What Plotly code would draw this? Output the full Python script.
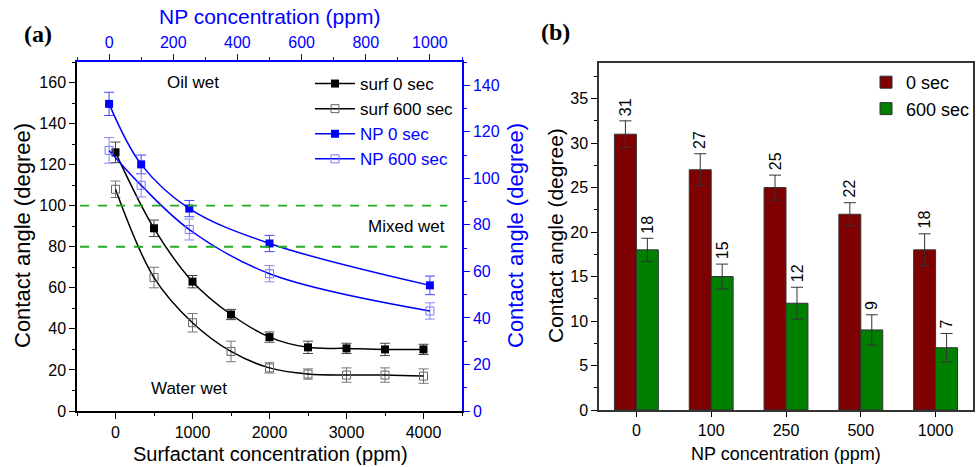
import plotly.graph_objects as go

# ---------------- data: panel (a) ----------------
surf_conc = [0, 500, 1000, 1500, 2000, 2500, 3000, 3500, 4000]
surf_0 = [126, 89, 63, 47, 36, 31, 30.5, 30, 30]
surf_0_err = [5, 4, 3, 2.5, 2.5, 3, 2.5, 3, 2.5]
surf_600 = [108, 65, 43, 29, 21, 18, 17.5, 17.5, 17]
surf_600_err = [4, 5, 4.5, 5, 2.5, 2.5, 3.5, 3.5, 3.5]

np_conc = [0, 100, 250, 500, 1000]
np_0 = [132, 106, 87, 72, 54]
np_0_err = [5, 4, 3.5, 3.5, 4]
np_600 = [112, 97, 78, 59, 43]
np_600_err = [5.5, 5, 4.5, 3.5, 3.5]

wet_limits = [100, 80]
region_labels = ["Oil wet", "Mixed wet", "Water wet"]
region_x = [1000, 3780, 950]
region_y = [160, 90, 11]

# ---------------- data: panel (b) ----------------
bar_cats = ["0", "100", "250", "500", "1000"]
bar_0 = [31, 27, 25, 22, 18]
bar_0_err = [1.5, 1.8, 1.4, 1.3, 1.8]
bar_600 = [18, 15, 12, 9, 7]
bar_600_err = [1.3, 1.4, 1.8, 1.7, 1.6]

FONT = "Arial, Liberation Sans, sans-serif"
BLUE = "#0000ff"
W, H = 978, 467


def px(x):
    return x / W


def py(y):
    return 1 - y / H


fig = go.Figure()

# panel (a) surfactant series
fig.add_trace(go.Scatter(
    x=surf_conc, y=surf_0, name="surf 0 sec", mode="lines+markers",
    line=dict(color="black", width=1.5, shape="spline"),
    marker=dict(symbol="square", size=8, color="black"),
    error_y=dict(type="data", array=surf_0_err, color="#444444", thickness=1, width=5),
    xaxis="x", yaxis="y", legend="legend"))
fig.add_trace(go.Scatter(
    x=surf_conc, y=surf_600, name="surf 600 sec", mode="lines+markers",
    line=dict(color="black", width=1.5, shape="spline"),
    marker=dict(symbol="square-open", size=8, color="#666666", line=dict(width=1)),
    error_y=dict(type="data", array=surf_600_err, color="#777777", thickness=1, width=5),
    xaxis="x", yaxis="y", legend="legend"))
# panel (a) NP series (top / right axes)
fig.add_trace(go.Scatter(
    x=np_conc, y=np_0, name='<span style="color:#0000ff">NP 0 sec</span>', mode="lines+markers",
    line=dict(color=BLUE, width=1.5, shape="spline"),
    marker=dict(symbol="square", size=8, color=BLUE),
    error_y=dict(type="data", array=np_0_err, color="#4444ff", thickness=1, width=5),
    xaxis="x2", yaxis="y2", legend="legend"))
fig.add_trace(go.Scatter(
    x=np_conc, y=np_600, name='<span style="color:#0000ff">NP 600 sec</span>', mode="lines+markers",
    line=dict(color=BLUE, width=1.5, shape="spline"),
    marker=dict(symbol="square-open", size=8, color="#7777ff", line=dict(width=1)),
    error_y=dict(type="data", array=np_600_err, color="#8888ff", thickness=1, width=5),
    xaxis="x2", yaxis="y2", legend="legend"))

# panel (b) bars
fig.add_trace(go.Bar(
    x=bar_cats, y=bar_0, name="0 sec", marker=dict(color="#7f0000", line=dict(color="#333333", width=1)),
    error_y=dict(type="data", array=bar_0_err, color="#333333", thickness=1, width=6),
    xaxis="x3", yaxis="y3", legend="legend2"))
fig.add_trace(go.Bar(
    x=bar_cats, y=bar_600, name="600 sec", marker=dict(color="#007f00", line=dict(color="#333333", width=1)),
    error_y=dict(type="data", array=bar_600_err, color="#333333", thickness=1, width=6),
    xaxis="x3", yaxis="y3", legend="legend2"))

annotations = []
# bar value labels
half = (1 - 0.413) / 4
for i, (v, e) in enumerate(zip(bar_0, bar_0_err)):
    annotations.append(dict(x=i - half, y=v + e, xref="x3", yref="y3", text=str(v), showarrow=False,
                            textangle=-90, yanchor="bottom", xanchor="center", yshift=3,
                            font=dict(family=FONT, size=16, color="black")))
for i, (v, e) in enumerate(zip(bar_600, bar_600_err)):
    annotations.append(dict(x=i + half, y=v + e, xref="x3", yref="y3", text=str(v), showarrow=False,
                            textangle=-90, yanchor="bottom", xanchor="center", yshift=3,
                            font=dict(family=FONT, size=16, color="black")))
# region labels
for t, x, y in zip(region_labels, region_x, region_y):
    annotations.append(dict(x=x, y=y, xref="x", yref="y", text=t, showarrow=False,
                            font=dict(family=FONT, size=17, color="black")))

# axis titles & panel letters
def title(text, x, y, size, color="black", angle=0, fam=FONT):
    annotations.append(dict(x=px(x), y=py(y), xref="paper", yref="paper", text=text, showarrow=False,
                            textangle=angle, xanchor="center", yanchor="middle",
                            font=dict(family=fam, size=size, color=color)))

title("Contact angle (degree)", 22, 236, 22, angle=-90)
title("Contact angle (degree)", 515, 236, 22, color=BLUE, angle=-90)
title("Surfactant concentration (ppm)", 270, 454, 20)
title("NP concentration (ppm)", 269, 16, 21, color=BLUE)
title("Contact angle (degree)", 555, 236, 21, angle=-90)
title("NP concentration (ppm)", 786, 454, 18)
title("<b>(a)</b>", 38, 34, 24, fam="Liberation Serif, Times New Roman, serif")
title("<b>(b)</b>", 555, 32, 24, fam="Liberation Serif, Times New Roman, serif")

shapes = []
for lim in wet_limits:
    shapes.append(dict(type="line", xref="x domain", yref="y", x0=0.008, x1=0.962, y0=lim, y1=lim,
                       line=dict(color="#22aa22", width=1.8, dash="dash")))

tickf = dict(family=FONT, size=16, color="black")
tickb = dict(family=FONT, size=16, color=BLUE)
dom_ax = [px(77), px(462)]
dom_ay = [py(411), py(62)]
dom_bx = [px(599), px(973)]
dom_by = [py(410), py(63)]

fig.update_layout(
    width=W, height=H, margin=dict(l=0, r=0, t=0, b=0, autoexpand=False),
    paper_bgcolor="white", plot_bgcolor="white",
    font=dict(family=FONT, size=15, color="black"),
    barmode="group", bargap=0.413, bargroupgap=0,
    xaxis=dict(domain=dom_ax, anchor="y", range=[-500, 4500], tickmode="linear", tick0=0, dtick=1000,
               ticks="outside", ticklen=6, tickwidth=1.2, tickcolor="black", showline=True, linecolor="black",
               linewidth=1.5, showgrid=False, zeroline=False, tickfont=tickf,
               minor=dict(dtick=500, tick0=0, ticks="outside", ticklen=3, tickcolor="black", showgrid=False)),
    xaxis2=dict(overlaying="x", anchor="y", side="top", range=[-100, 1100], tickmode="linear", tick0=0, dtick=200,
                ticks="outside", ticklen=6, tickwidth=1.2, tickcolor=BLUE, showline=True, linecolor=BLUE,
                linewidth=1.5, showgrid=False, zeroline=False, tickfont=tickb,
                minor=dict(dtick=100, tick0=0, ticks="outside", ticklen=3, tickcolor=BLUE, showgrid=False)),
    yaxis=dict(domain=dom_ay, anchor="x", range=[0, 170], tickmode="linear", tick0=0, dtick=20,
               ticks="outside", ticklen=6, tickwidth=1.2, tickcolor="black", showline=True, linecolor="black",
               linewidth=1.5, showgrid=False, zeroline=False, tickfont=tickf,
               minor=dict(dtick=10, tick0=0, ticks="outside", ticklen=3, tickcolor="black", showgrid=False)),
    yaxis2=dict(overlaying="y", anchor="x", side="right", range=[0, 150], tickmode="linear", tick0=0, dtick=20,
                ticks="outside", ticklen=6, tickwidth=1.2, tickcolor=BLUE, showline=True, linecolor=BLUE,
                linewidth=1.5, showgrid=False, zeroline=False, tickfont=tickb,
                minor=dict(dtick=10, tick0=0, ticks="outside", ticklen=3, tickcolor=BLUE, showgrid=False)),
    xaxis3=dict(domain=dom_bx, anchor="y3", type="category", range=[-0.5, 4.5],
                ticks="outside", ticklen=5, tickcolor="black", showline=True, linecolor="#333333",
                linewidth=1.5, mirror=True, showgrid=False, tickfont=tickf),
    yaxis3=dict(domain=dom_by, anchor="x3", range=[0, 39], tickmode="linear", tick0=0, dtick=5,
                ticks="outside", ticklen=6, tickcolor="black", showline=True, linecolor="#333333",
                linewidth=1.5, mirror=True, showgrid=False, zeroline=False, tickfont=tickf,
                minor=dict(dtick=2.5, tick0=0, ticks="outside", ticklen=3, tickcolor="black", showgrid=False)),
    legend=dict(x=px(310), y=py(66), xanchor="left", yanchor="top", bgcolor="rgba(0,0,0,0)",
                font=dict(family=FONT, size=17, color="black"), tracegroupgap=0, itemwidth=40),
    legend2=dict(x=px(866), y=py(64), xanchor="left", yanchor="top", bgcolor="rgba(0,0,0,0)",
                 font=dict(family=FONT, size=18, color="black")),
    annotations=annotations, shapes=shapes,
)

fig.write_html("out.html", post_script="document.body.style.margin='0';",
               config={"displayModeBar": False})
